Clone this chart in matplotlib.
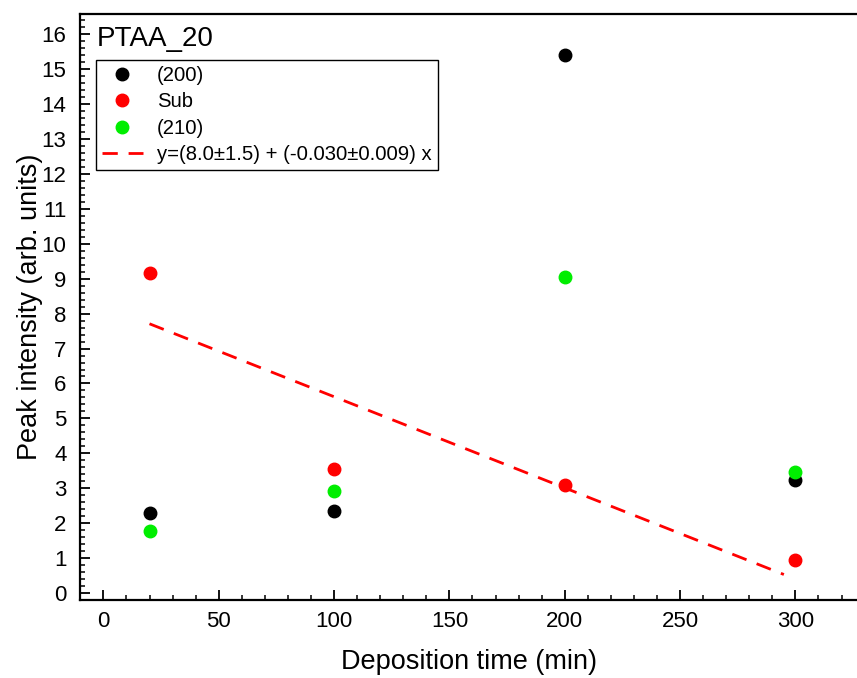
import numpy as np
import matplotlib
matplotlib.use("Agg")
import matplotlib.pyplot as plt
from matplotlib.ticker import MultipleLocator

plt.rcParams['font.family'] = ['Liberation Sans', 'DejaVu Sans']

# Data
time = [20, 100, 200, 300]
peak_200 = [2.29, 2.35, 15.41, 3.24]
peak_sub = [9.16, 3.55, 3.09, 0.94]
peak_210 = [1.78, 2.92, 9.05, 3.46]
fit_x = [20, 295]
fit_label = "y=(8.0\u00b11.5) + (-0.030\u00b10.009) x"
title_text = "PTAA_20"

fig = plt.figure(figsize=(8.57, 6.78), dpi=100)
ax = fig.add_axes([80.3 / 857, 1 - 600 / 678, (857 - 80.3) / 857, (600 - 14) / 678])

ms = 9
ax.plot(time, peak_200, 'o', color='black', ms=ms, label='(200)', zorder=3)
ax.plot(time, peak_sub, 'o', color='#ff0000', ms=ms, label='Sub', zorder=3)
ax.plot(time, peak_210, 'o', color='#00ee00', ms=ms, label='(210)', zorder=3)

slope, intercept = np.polyfit(time, peak_sub, 1)
fx = np.array(fit_x, dtype=float)
ax.plot(fx, intercept + slope * fx, color='#ff0000', lw=2, dashes=(5.5, 3.9),
        label=fit_label, zorder=2)

ax.set_xlim(-10, 326.7)
ax.set_ylim(-0.2, 16.58)
ax.xaxis.set_major_locator(MultipleLocator(50))
ax.xaxis.set_minor_locator(MultipleLocator(10))
ax.yaxis.set_major_locator(MultipleLocator(1))
ax.yaxis.set_minor_locator(MultipleLocator(0.2))

for s in ['left', 'bottom', 'top']:
    ax.spines[s].set_linewidth(1.6)
ax.spines['right'].set_visible(False)

ax.tick_params(which='major', direction='in', length=7, width=1.3, labelsize=16)
ax.tick_params(axis='x', which='major', pad=8)
ax.tick_params(axis='y', which='major', pad=10)
ax.tick_params(which='minor', direction='in', length=3.5, width=1.1)

ax.set_xlabel('Deposition time (min)', fontsize=19.5, labelpad=12)
ax.set_ylabel('Peak intensity (arb. units)', fontsize=19.5, labelpad=-1)

ax.text(0.0215, 0.958, title_text, transform=ax.transAxes, fontsize=20,
        ha='left', va='center')

leg = ax.legend(loc='upper left', bbox_to_anchor=(0.0202, 0.9215), borderaxespad=0,
                fontsize=14.6, frameon=True, fancybox=False, edgecolor='black',
                handlelength=2.0, handletextpad=0.7, labelspacing=0.36,
                borderpad=0.3, numpoints=1)
leg.get_frame().set_linewidth(1.0)
leg.get_frame().set_alpha(None)

fig.savefig('out.png', dpi=100)
